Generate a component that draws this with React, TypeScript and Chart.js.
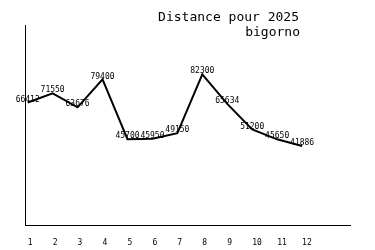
import React, { useEffect, useRef } from "react";
import { Chart, registerables } from "chart.js";

Chart.register(...registerables);

const months = ["1", "2", "3", "4", "5", "6", "7", "8", "9", "10", "11", "12"];
const distances = [66412, 71550, 63676, 79400, 45700, 45950, 49150, 82300, 65634, 51200, 45650, 41886];
const titleLines = ["Distance pour 2025", "bigorno"];

const valueLabels = {
  id: "valueLabels",
  afterDatasetsDraw(chart: any) {
    const ctx = chart.ctx;
    const meta = chart.getDatasetMeta(0);
    ctx.save();
    ctx.fillStyle = "#000";
    ctx.font = "8px 'DejaVu Sans Mono'";
    ctx.textAlign = "center";
    ctx.textBaseline = "bottom";
    meta.data.forEach((pt: any, i: number) => {
      ctx.fillText(String(distances[i]), pt.x, pt.y + 1);
    });
    ctx.restore();
  },
};

const rightTitle = {
  id: "rightTitle",
  afterDraw(chart: any) {
    const ctx = chart.ctx;
    ctx.save();
    ctx.fillStyle = "#000";
    ctx.font = "13px 'DejaVu Sans Mono'";
    ctx.textAlign = "right";
    ctx.textBaseline = "middle";
    ctx.fillText(titleLines[0], 299, 18);
    ctx.fillText(titleLines[1], 300, 33);
    ctx.restore();
  },
};

export default function App() {
  const ref = useRef<HTMLCanvasElement>(null);
  useEffect(() => {
    if (!ref.current) return;
    const chart = new Chart(ref.current, {
      type: "line",
      data: {
        datasets: [
          {
            data: distances.map((v, i) => ({ x: i + 1, y: v })),
            borderColor: "#000",
            borderWidth: 2,
            pointRadius: 0,
            tension: 0,
            fill: false,
          },
        ],
      },
      options: {
        animation: false,
        responsive: false,
        maintainAspectRatio: false,
        layout: { padding: { left: 25, right: 25, top: 25, bottom: 0 } },
        plugins: { legend: { display: false }, tooltip: { enabled: false }, title: { display: false } },
        scales: {
          x: {
            type: "linear",
            min: 0.892,
            max: 13.92,
            grid: { display: false, drawTicks: false },
            border: { display: true, color: "#000", width: 1 },
            afterBuildTicks: (scale: any) => {
              scale.ticks = months.map((_, i) => ({ value: i + 1 }));
            },
            afterFit: (scale: any) => {
              scale.height = 25;
            },
            ticks: {
              autoSkip: false,
              maxRotation: 0,
              align: "start",
              padding: 13,
              color: "#000",
              font: { family: "'DejaVu Sans Mono'", size: 8 },
              callback: (v: any) => months[Number(v) - 1] ?? "",
            },
          },
          y: {
            min: -2650,
            max: 110100,
            grid: { display: false, drawTicks: false },
            border: { display: true, color: "#000", width: 1 },
            ticks: { display: false },
            afterFit: (scale: any) => {
              scale.width = 0;
            },
          },
        },
      },
      plugins: [valueLabels, rightTitle],
    });
    return () => chart.destroy();
  }, []);
  return (
    <div style={{ position: "absolute", left: 0, top: 0, width: 375, height: 250, background: "#fff" }}>
      <canvas ref={ref} width={375} height={250} style={{ width: 375, height: 250 }} />
    </div>
  );
}
